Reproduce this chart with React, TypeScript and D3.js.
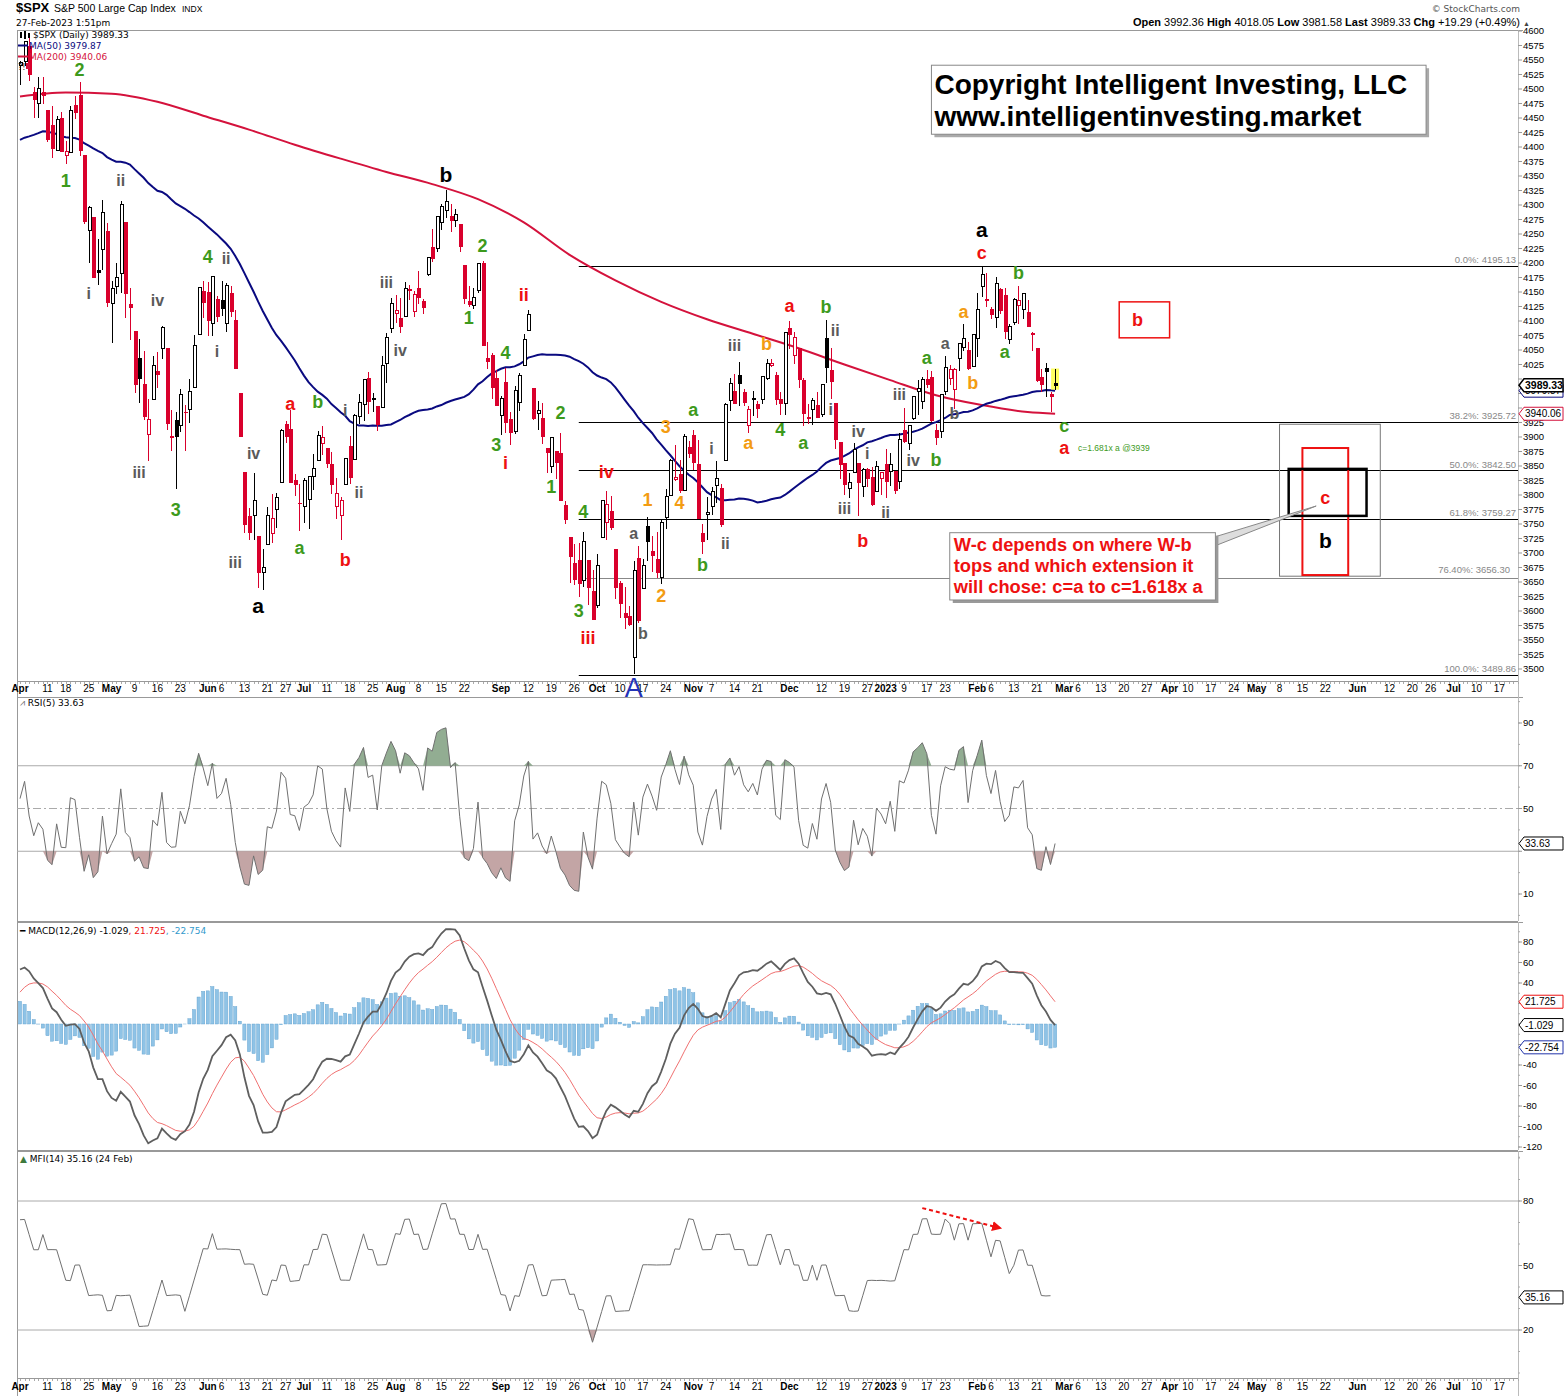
import React from "react";
import * as d3 from "d3";

// ---------------- calendar ----------------
const HOLIDAYS = [
  "2022-04-15", "2022-05-30", "2022-06-20", "2022-07-04", "2022-09-05", "2022-11-24", "2022-12-26",
  "2023-01-02", "2023-01-16", "2023-02-20", "2023-04-07", "2023-05-29", "2023-06-19",
];
const CAL_START = "2022-04-01";
const CAL_END = "2023-07-21";

// ---------------- data ----------------
// closes Jan-Mar 2022 (indicator warm-up)
const preCloses = [
  4796.6, 4793.5, 4700.6, 4696.1, 4677.0, 4670.3, 4713.1, 4726.4, 4659.0, 4662.9, 4577.1, 4532.8, 4482.7, 4397.9, 4410.1, 4356.5, 4349.9, 4326.5, 4431.9, 4515.6,
  4546.5, 4589.4, 4477.4, 4500.5, 4483.9, 4521.5, 4587.2, 4504.1, 4418.6, 4401.7, 4471.1, 4475.0, 4380.3, 4348.9, 4304.8, 4225.5, 4288.7, 4384.7, 4373.9,
  4306.3, 4386.5, 4363.5, 4328.9, 4201.1, 4170.7, 4277.9, 4259.5, 4204.3, 4173.1, 4262.5, 4357.9, 4411.7, 4463.1, 4461.2, 4511.6, 4456.2, 4520.2, 4543.1, 4575.5, 4631.6, 4602.5, 4530.4,
];

// [open, high, low, close]
const ohlcApr22 = [
  [4540.3, 4548.7, 4507.6, 4545.9], [4548.0, 4583.5, 4539.2, 4582.6], [4572.5, 4593.5, 4514.2, 4525.1], [4494.2, 4503.9, 4450.0, 4481.2],
  [4474.7, 4521.2, 4450.3, 4500.2], [4494.2, 4520.4, 4474.6, 4488.3], [4462.6, 4464.4, 4408.4, 4412.5], [4437.6, 4471.0, 4381.3, 4397.5],
  [4394.3, 4453.9, 4392.7, 4446.6], [4449.1, 4460.5, 4390.8, 4392.6], [4385.6, 4410.3, 4370.3, 4391.7], [4390.6, 4471.0, 4390.6, 4462.2],
  [4472.3, 4488.3, 4448.8, 4459.5], [4489.2, 4512.9, 4384.5, 4393.7], [4385.8, 4385.8, 4267.6, 4271.8], [4255.3, 4299.0, 4200.8, 4296.1],
  [4278.1, 4278.1, 4175.0, 4175.2], [4186.5, 4240.7, 4162.9, 4184.0], [4222.6, 4308.5, 4188.6, 4287.5], [4253.8, 4269.7, 4124.3, 4131.9],
];
const ohlcMay22 = [
  [4130.6, 4169.8, 4062.5, 4155.4], [4159.8, 4200.1, 4147.1, 4175.5], [4181.2, 4307.7, 4148.9, 4300.2], [4270.4, 4270.4, 4106.0, 4146.9],
  [4128.2, 4157.7, 4067.9, 4123.3], [4081.3, 4081.3, 3975.5, 3991.2], [4035.2, 4068.8, 3958.2, 4001.1], [3990.1, 4049.1, 3928.8, 3935.2],
  [3903.9, 3964.8, 3858.9, 3930.1], [3963.9, 4038.9, 3963.9, 4023.9], [4013.0, 4046.5, 3984.0, 4008.0], [4052.0, 4090.7, 4033.9, 4088.9],
  [4052.0, 4052.0, 3911.9, 3923.7], [3899.0, 3946.0, 3876.6, 3900.8], [3927.8, 3943.4, 3810.3, 3901.4], [3919.4, 3981.9, 3909.0, 3973.8],
  [3942.9, 3955.7, 3875.1, 3941.5], [3946.6, 3999.3, 3925.0, 3978.7], [3984.6, 4075.1, 3984.6, 4057.8], [4077.4, 4158.5, 4077.4, 4158.2],
  [4151.1, 4168.3, 4104.9, 4132.2],
];
const ohlcJun22 = [
  [4149.8, 4166.5, 4073.9, 4101.2], [4095.4, 4177.5, 4074.4, 4176.8], [4137.6, 4142.7, 4098.7, 4108.5], [4134.7, 4168.8, 4109.2, 4121.4],
  [4096.5, 4164.9, 4080.2, 4160.7], [4147.1, 4160.1, 4107.2, 4115.8], [4101.7, 4119.1, 4017.2, 4017.8], [3974.4, 3974.4, 3900.2, 3900.9],
  [3838.2, 3838.2, 3734.3, 3749.6], [3763.5, 3778.2, 3721.6, 3735.5], [3764.1, 3837.6, 3722.3, 3790.0], [3728.2, 3728.2, 3639.8, 3666.8],
  [3665.9, 3707.7, 3636.9, 3674.8], [3715.3, 3779.7, 3715.3, 3764.8], [3733.9, 3801.8, 3717.7, 3759.9], [3774.7, 3802.6, 3743.5, 3795.7],
  [3821.8, 3913.7, 3821.8, 3911.7], [3920.8, 3927.7, 3889.7, 3900.1], [3913.0, 3945.9, 3820.1, 3821.6], [3825.1, 3836.5, 3799.0, 3818.8],
  [3786.0, 3819.0, 3738.7, 3785.4],
];
const ohlcJul22 = [
  [3781.0, 3829.8, 3752.1, 3825.3], [3792.6, 3832.2, 3742.1, 3831.4], [3832.0, 3870.9, 3809.4, 3845.1], [3858.9, 3910.6, 3858.9, 3902.6],
  [3888.3, 3918.5, 3869.3, 3899.4], [3880.9, 3880.9, 3847.2, 3854.4], [3851.9, 3873.4, 3802.4, 3818.8], [3779.7, 3829.4, 3759.1, 3801.8],
  [3764.0, 3796.4, 3721.6, 3790.4], [3818.0, 3863.6, 3817.2, 3863.2], [3883.8, 3902.4, 3818.6, 3830.9], [3860.7, 3939.8, 3860.7, 3936.7],
  [3935.3, 3974.1, 3922.0, 3959.9], [3955.5, 3999.3, 3927.6, 3999.0], [4000.5, 4012.4, 3938.8, 3961.6], [3965.7, 3975.3, 3943.5, 3966.8],
  [3953.2, 3953.2, 3910.7, 3921.1], [3951.4, 4039.6, 3951.4, 4023.6], [4026.1, 4079.0, 3993.0, 4072.4], [4087.3, 4140.2, 4079.2, 4130.3],
];
const ohlcAug22 = [
  [4112.4, 4145.0, 4096.0, 4118.6], [4104.2, 4140.5, 4079.8, 4091.2], [4108.0, 4167.7, 4108.0, 4155.2], [4154.9, 4161.3, 4135.4, 4151.9],
  [4115.9, 4151.6, 4107.3, 4145.2], [4155.9, 4186.6, 4129.0, 4140.1], [4133.1, 4137.3, 4112.1, 4122.5], [4181.0, 4211.0, 4177.3, 4210.2],
  [4227.4, 4257.9, 4201.4, 4207.3], [4225.0, 4280.5, 4219.8, 4280.2], [4269.4, 4301.8, 4256.9, 4297.1], [4290.5, 4325.3, 4277.8, 4305.2],
  [4280.4, 4302.2, 4253.1, 4274.0], [4273.1, 4292.5, 4262.0, 4283.7], [4266.3, 4266.3, 4218.7, 4228.5], [4195.1, 4195.1, 4129.9, 4138.0],
  [4133.1, 4159.8, 4124.0, 4128.7], [4126.6, 4156.6, 4120.0, 4140.8], [4153.3, 4200.5, 4147.6, 4199.1], [4198.7, 4203.0, 4057.7, 4057.7],
  [4034.6, 4063.0, 4017.4, 4030.6], [4041.3, 4045.0, 3965.2, 3986.2], [4000.7, 4015.4, 3954.5, 3955.0],
];
const ohlcSep22 = [
  [3936.7, 3970.2, 3903.7, 3966.9], [3994.7, 4018.4, 3906.2, 3924.3], [3930.9, 3942.6, 3886.8, 3908.2], [3909.4, 3987.9, 3906.0, 3979.9],
  [3959.9, 4010.5, 3944.8, 4006.2], [4022.9, 4076.8, 4022.9, 4067.4], [4083.7, 4119.3, 4083.7, 4110.4], [3982.9, 3982.9, 3930.0, 3932.7],
  [3940.7, 3961.9, 3912.5, 3946.0], [3932.4, 3959.1, 3888.3, 3901.4], [3881.0, 3881.0, 3837.1, 3873.3], [3849.9, 3900.5, 3838.5, 3899.9],
  [3875.2, 3876.0, 3827.5, 3855.9], [3871.4, 3907.1, 3789.5, 3789.9], [3782.4, 3790.0, 3749.5, 3758.0], [3727.1, 3727.1, 3647.5, 3693.2],
  [3682.7, 3715.7, 3644.8, 3655.0], [3686.4, 3717.5, 3623.3, 3647.3], [3651.9, 3736.7, 3640.6, 3719.0], [3687.0, 3687.0, 3610.4, 3640.5],
  [3633.5, 3671.4, 3584.1, 3585.6],
];
const ohlcOct22 = [
  [3609.8, 3698.4, 3604.9, 3678.4], [3726.5, 3791.9, 3726.5, 3790.9], [3753.3, 3806.9, 3722.7, 3783.3], [3772.0, 3797.9, 3739.2, 3744.5],
  [3706.7, 3706.7, 3620.7, 3639.7], [3647.5, 3652.2, 3588.1, 3612.4], [3595.9, 3640.7, 3568.5, 3588.8], [3590.8, 3608.3, 3573.9, 3577.0],
  [3520.4, 3685.4, 3491.6, 3669.9], [3690.4, 3712.0, 3579.7, 3583.1], [3638.7, 3689.7, 3638.7, 3678.0], [3746.3, 3762.8, 3686.5, 3720.0],
  [3703.1, 3728.6, 3666.5, 3695.2], [3689.1, 3736.0, 3656.4, 3665.8], [3657.1, 3757.9, 3647.4, 3752.8], [3762.0, 3810.7, 3741.7, 3797.3],
  [3799.4, 3862.9, 3799.4, 3859.1], [3826.0, 3886.2, 3824.1, 3830.6], [3834.7, 3860.0, 3803.8, 3807.3], [3808.3, 3905.4, 3808.3, 3901.1],
  [3881.9, 3893.7, 3863.2, 3872.0],
];
const ohlcNov22 = [
  [3901.8, 3911.8, 3843.8, 3856.1], [3852.9, 3894.4, 3758.7, 3759.7], [3733.3, 3750.6, 3698.2, 3719.9], [3766.7, 3796.3, 3721.6, 3770.6],
  [3780.7, 3814.0, 3764.7, 3806.8], [3817.0, 3859.4, 3786.3, 3828.1], [3810.9, 3818.5, 3744.2, 3748.6], [3859.9, 3958.3, 3859.9, 3956.4],
  [3963.7, 4001.5, 3944.8, 3992.9], [3978.0, 4009.0, 3956.4, 3957.3], [4006.4, 4028.8, 3953.2, 3991.7], [3976.8, 3983.1, 3954.3, 3958.8],
  [3919.3, 3954.3, 3906.5, 3946.6], [3966.4, 3979.9, 3936.0, 3965.3], [3956.2, 3962.0, 3933.3, 3949.9], [3965.5, 4005.9, 3956.9, 4003.6],
  [4000.3, 4033.8, 3998.7, 4027.3], [4023.3, 4034.0, 4020.8, 4026.1], [4005.4, 4012.3, 3955.8, 3963.9], [3964.0, 3976.8, 3937.7, 3957.6],
  [3957.2, 4080.1, 3938.6, 4080.1],
];
const ohlcDec22 = [
  [4087.1, 4100.5, 4050.9, 4076.6], [4040.2, 4080.5, 4026.6, 4071.7], [4052.0, 4052.5, 3984.5, 3998.8], [3996.6, 4001.5, 3918.4, 3941.3],
  [3933.3, 3957.6, 3922.7, 3933.9], [3947.8, 3966.7, 3921.0, 3963.5], [3954.2, 3977.0, 3933.0, 3934.4], [3939.3, 3990.7, 3935.3, 3990.6],
  [4069.4, 4101.0, 3993.0, 4019.7], [4015.5, 4053.8, 3965.7, 3995.3], [3958.4, 3958.4, 3879.5, 3895.8], [3890.9, 3890.9, 3827.9, 3852.4],
  [3853.8, 3854.9, 3800.0, 3817.7], [3810.5, 3838.2, 3795.6, 3821.6], [3839.5, 3889.3, 3839.5, 3878.4], [3853.6, 3853.6, 3764.5, 3822.4],
  [3815.1, 3845.8, 3797.0, 3844.8], [3843.3, 3846.7, 3813.2, 3829.3], [3829.6, 3848.3, 3780.8, 3783.2], [3805.5, 3858.2, 3805.5, 3849.3],
  [3829.1, 3839.9, 3800.3, 3839.5],
];
const ohlcJan23 = [
  [3853.3, 3878.5, 3794.3, 3824.1], [3840.4, 3873.2, 3815.8, 3853.0], [3839.7, 3839.7, 3802.4, 3808.1], [3823.4, 3906.2, 3809.6, 3895.1],
  [3910.8, 3950.6, 3890.4, 3892.1], [3888.6, 3919.8, 3877.3, 3919.3], [3932.4, 3970.1, 3928.5, 3969.6], [3977.6, 3997.8, 3937.6, 3983.2],
  [3960.6, 4004.0, 3947.7, 3999.1], [3999.3, 4015.4, 3984.6, 3991.0], [4002.3, 4014.2, 3926.6, 3928.9], [3911.8, 3922.9, 3885.5, 3898.9],
  [3909.0, 3973.0, 3897.9, 3972.6], [3978.1, 4039.3, 3971.6, 4019.8], [4001.7, 4023.9, 3989.8, 4017.0], [3982.7, 4019.6, 3949.1, 4016.2],
  [4036.1, 4061.6, 4013.3, 4060.4], [4053.7, 4094.2, 4048.7, 4070.6], [4049.3, 4063.9, 4015.6, 4017.8], [4020.9, 4077.2, 4020.4, 4076.6],
];
const ohlcFeb23 = [
  [4070.1, 4149.0, 4037.2, 4119.2], [4158.7, 4195.4, 4141.9, 4179.8], [4136.7, 4182.4, 4123.4, 4136.5], [4119.6, 4124.6, 4104.0, 4111.1],
  [4105.4, 4176.5, 4088.4, 4164.0], [4153.5, 4156.9, 4111.7, 4117.9], [4144.3, 4156.2, 4069.7, 4081.5], [4068.9, 4094.4, 4060.8, 4090.5],
  [4096.6, 4138.9, 4092.7, 4137.3], [4126.7, 4159.8, 4095.0, 4136.1], [4119.5, 4148.1, 4104.0, 4147.6], [4114.8, 4136.5, 4089.4, 4090.4],
  [4077.4, 4081.5, 4048.0, 4079.1], [4052.4, 4052.4, 3995.2, 3997.3], [4001.8, 4017.4, 3976.9, 3991.1], [4018.6, 4028.3, 3969.2, 4012.3],
  [3973.2, 3978.3, 3943.1, 3970.0], [3992.4, 4018.1, 3981.6, 3989.3],
];

// MA(200)
const ma200Dates = [
  "2022-04-01", "2022-04-18", "2022-05-02", "2022-05-16", "2022-05-31", "2022-06-14", "2022-06-29", "2022-07-14", "2022-07-28", "2022-08-11",
  "2022-08-25", "2022-09-09", "2022-09-23", "2022-10-07", "2022-10-21", "2022-11-04", "2022-11-18", "2022-12-05", "2022-12-19", "2023-01-04",
  "2023-01-19", "2023-02-02", "2023-02-16", "2023-02-27",
];
const ma200Values = [
  4487, 4494, 4492, 4478, 4454, 4430, 4404, 4380, 4357, 4336,
  4310, 4270, 4214, 4170, 4133, 4103, 4078, 4053, 4025, 3998,
  3972, 3955, 3943, 3940.06,
];

// Fibonacci retracement levels
const fibLevels = [
  { label: "0.0%: 4195.13", value: 4195.13 },
  { label: "38.2%: 3925.72", value: 3925.72 },
  { label: "50.0%: 3842.50", value: 3842.5 },
  { label: "61.8%: 3759.27", value: 3759.27 },
  { label: "76.40%: 3656.30", value: 3656.3 },
  { label: "100.0%: 3489.86", value: 3489.86 },
];
const fibStart = "2022-09-27";

// x-axis tick labels [date, text, isMonth]
const xTicks: [string, string, boolean][] = [
  ["2022-04-01", "Apr", true], ["2022-04-11", "11", false], ["2022-04-18", "18", false], ["2022-04-25", "25", false],
  ["2022-05-02", "May", true], ["2022-05-09", "9", false], ["2022-05-16", "16", false], ["2022-05-23", "23", false],
  ["2022-06-01", "Jun", true], ["2022-06-06", "6", false], ["2022-06-13", "13", false], ["2022-06-21", "21", false], ["2022-06-27", "27", false],
  ["2022-07-01", "Jul", true], ["2022-07-11", "11", false], ["2022-07-18", "18", false], ["2022-07-25", "25", false],
  ["2022-08-01", "Aug", true], ["2022-08-08", "8", false], ["2022-08-15", "15", false], ["2022-08-22", "22", false],
  ["2022-09-01", "Sep", true], ["2022-09-12", "12", false], ["2022-09-19", "19", false], ["2022-09-26", "26", false],
  ["2022-10-03", "Oct", true], ["2022-10-10", "10", false], ["2022-10-17", "17", false], ["2022-10-24", "24", false],
  ["2022-11-01", "Nov", true], ["2022-11-07", "7", false], ["2022-11-14", "14", false], ["2022-11-21", "21", false],
  ["2022-12-01", "Dec", true], ["2022-12-12", "12", false], ["2022-12-19", "19", false], ["2022-12-27", "27", false],
  ["2023-01-03", "2023", true], ["2023-01-09", "9", false], ["2023-01-17", "17", false], ["2023-01-23", "23", false],
  ["2023-02-01", "Feb", true], ["2023-02-06", "6", false], ["2023-02-13", "13", false], ["2023-02-21", "21", false],
  ["2023-03-01", "Mar", true], ["2023-03-06", "6", false], ["2023-03-13", "13", false], ["2023-03-20", "20", false], ["2023-03-27", "27", false],
  ["2023-04-03", "Apr", true], ["2023-04-10", "10", false], ["2023-04-17", "17", false], ["2023-04-24", "24", false],
  ["2023-05-01", "May", true], ["2023-05-08", "8", false], ["2023-05-15", "15", false], ["2023-05-22", "22", false],
  ["2023-06-01", "Jun", true], ["2023-06-12", "12", false], ["2023-06-20", "20", false], ["2023-06-26", "26", false],
  ["2023-07-03", "Jul", true], ["2023-07-10", "10", false], ["2023-07-17", "17", false],
];

// Elliott wave labels [date, price, text, colour key]
const waveLabels: [string, number, string, string][] = [
  ["2022-04-21", 4532, "2", "g"], ["2022-04-18", 4341, "1", "g"], ["2022-05-04", 4343, "ii", "s"], ["2022-04-25", 4147, "i", "s"],
  ["2022-05-16", 4136, "iv", "s"], ["2022-06-01", 4210, "4", "g"], ["2022-06-07", 4207, "ii", "s"], ["2022-06-03", 4047, "i", "s"],
  ["2022-05-10", 3838, "iii", "s"], ["2022-05-20", 3774, "3", "g"], ["2022-06-15", 3872, "iv", "s"], ["2022-06-09", 3684, "iii", "s"],
  ["2022-06-16", 3610, "a", "k"], ["2022-06-28", 3957, "a", "r"], ["2022-07-07", 3960, "b", "g"], ["2022-07-15", 3945, "i", "s"],
  ["2022-07-20", 3805, "ii", "s"], ["2022-06-30", 3709, "a", "g"], ["2022-07-15", 3688, "b", "r"], ["2022-07-28", 4167, "iii", "s"],
  ["2022-08-02", 4050, "iv", "s"], ["2022-08-16", 4353, "b", "k"], ["2022-08-26", 4229, "2", "g"], ["2022-08-23", 4105, "1", "g"],
  ["2022-09-02", 4045, "4", "g"], ["2022-08-31", 3886, "3", "g"], ["2022-09-02", 3855, "i", "r"], ["2022-09-09", 4145, "ii", "r"],
  ["2022-09-21", 3941, "2", "g"], ["2022-09-19", 3814, "1", "g"], ["2022-09-28", 3771, "4", "g"], ["2022-10-05", 3840, "iv", "r"],
  ["2022-09-27", 3600, "3", "g"], ["2022-09-29", 3553, "iii", "r"], ["2022-10-13", 3467, "A", "b"], ["2022-10-13", 3734, "a", "s"],
  ["2022-10-17", 3562, "b", "s"], ["2022-10-18", 3791, "1", "o"], ["2022-10-21", 3626, "2", "o"], ["2022-10-24", 3917, "3", "o"],
  ["2022-10-27", 3786, "4", "o"], ["2022-11-01", 3947, "a", "g"], ["2022-11-07", 3881, "i", "s"], ["2022-11-10", 3717, "ii", "s"],
  ["2022-11-03", 3679, "b", "g"], ["2022-11-14", 4057, "iii", "s"], ["2022-11-23", 4060, "b", "o"], ["2022-11-17", 3890, "a", "o"],
  ["2022-11-29", 3912, "4", "g"], ["2022-12-06", 3890, "a", "g"], ["2022-12-01", 4126, "a", "r"], ["2022-12-13", 4124, "b", "g"],
  ["2022-12-15", 4083, "ii", "s"], ["2022-12-14", 3947, "i", "s"], ["2022-12-22", 3910, "iv", "s"], ["2022-12-27", 3871, "i", "s"],
  ["2022-12-19", 3776, "iii", "s"], ["2023-01-03", 3769, "ii", "s"], ["2022-12-23", 3721, "b", "r"], ["2023-01-06", 3974, "iii", "s"],
  ["2023-01-11", 3860, "iv", "s"], ["2023-01-19", 3860, "b", "g"], ["2023-01-17", 4036, "a", "g"], ["2023-01-23", 4062, "a", "s"],
  ["2023-01-25", 3941, "b", "s"], ["2023-01-27", 4115, "a", "o"], ["2023-01-31", 3993, "b", "o"], ["2023-02-02", 4257, "a", "k"],
  ["2023-02-02", 4217, "c", "r"], ["2023-02-14", 4183, "b", "g"], ["2023-02-09", 4047, "a", "g"], ["2023-03-01", 3919, "c", "g"],
  ["2023-03-01", 3881, "a", "r"], ["2023-03-23", 4102, "b", "r"], ["2023-05-22", 3795, "c", "r"], ["2023-05-22", 3722, "b", "k"],
];

const COLORS: Record<string, string> = { g: "#3d9a1c", k: "#000000", r: "#ee1111", o: "#f39c12", s: "#5a5a5a", b: "#2433b8" };
const SIZES: Record<string, number> = { g: 18, k: 21, r: 18, o: 18, s: 16, b: 27 };

// projection boxes [startDate, endDate, high, low, stroke, width]
const boxes: [string, string, number, number, string, number][] = [
  ["2023-05-08", "2023-06-08", 3922, 3660, "#777777", 1],
  ["2023-05-15", "2023-05-30", 3881, 3662, "#ee1111", 2],
  ["2023-05-10", "2023-06-05", 3845, 3764, "#000000", 2.5],
  ["2023-03-17", "2023-04-03", 4133, 4071, "#ee1111", 1.5],
];

const noteLines = ["W-c depends on where W-b", "tops and which extension it", "will chose: c=a to c=1.618x a"];
const copyrightLines = ["Copyright Intelligent Investing, LLC", "www.intelligentinvesting.market"];

const mfiArrow: [string, number][] = [["2023-01-13", 76.7], ["2023-02-08", 67.4]];

// ---------------- helpers ----------------
function buildCalendar(start: string, end: string, holidays: string[]) {
  const out: string[] = [];
  const d = new Date(start + "T00:00:00Z");
  const e = new Date(end + "T00:00:00Z");
  const hs = new Set(holidays);
  while (d <= e) {
    const day = d.getUTCDay();
    const s = d.toISOString().slice(0, 10);
    if (day !== 0 && day !== 6 && !hs.has(s)) out.push(s);
    d.setUTCDate(d.getUTCDate() + 1);
  }
  return out;
}
function ema(a: number[], n: number) {
  const k = 2 / (n + 1);
  let e = a[0];
  return a.map((v, i) => (i === 0 ? e : (e = v * k + e * (1 - k))));
}
function rsi(c: number[], n: number) {
  const out = new Array(c.length).fill(NaN);
  let ag = 0, al = 0;
  for (let i = 1; i <= n; i++) {
    const d = c[i] - c[i - 1];
    if (d > 0) ag += d; else al -= d;
  }
  ag /= n; al /= n;
  out[n] = 100 - 100 / (1 + ag / al);
  for (let i = n + 1; i < c.length; i++) {
    const d = c[i] - c[i - 1];
    ag = (ag * (n - 1) + Math.max(d, 0)) / n;
    al = (al * (n - 1) + Math.max(-d, 0)) / n;
    out[i] = al === 0 ? 100 : 100 - 100 / (1 + ag / al);
  }
  return out;
}
function mfi(h: number[], l: number[], c: number[], n: number) {
  const tp = c.map((v, i) => (h[i] + l[i] + v) / 3);
  const out = new Array(c.length).fill(NaN);
  for (let i = n; i < c.length; i++) {
    let pos = 0, neg = 0;
    for (let j = i - n + 1; j <= i; j++) {
      if (tp[j] > tp[j - 1]) pos += tp[j];
      else if (tp[j] < tp[j - 1]) neg += tp[j];
    }
    out[i] = neg === 0 ? 100 : 100 - 100 / (1 + pos / neg);
  }
  return out;
}

const FONT = "'Liberation Sans', Arial, sans-serif";
const VFONT = "'DejaVu Sans', Verdana, sans-serif";

function Tag({ y, text, stroke, bold }: { y: number; text: string; stroke: string; bold?: boolean }) {
  const x = 1518;
  return (
    <g>
      <path d={`M${x + 1},${y} L${x + 6},${y - 6.5} H${x + 45} V${y + 6.5} H${x + 6} Z`} fill="#fff" stroke={stroke} strokeWidth={bold ? 1.5 : 1} />
      <text x={x + 7} y={y} dy="0.36em" fontSize={bold ? 10.5 : 10} fontWeight={bold ? 700 : 400} fontFamily={FONT} fill="#000">{text}</text>
    </g>
  );
}

export default function App() {
  const cal = buildCalendar(CAL_START, CAL_END, HOLIDAYS);
  const idx = new Map(cal.map((d, i) => [d, i] as [string, number]));
  const di = (d: string) => idx.get(d) ?? 0;

  const ohlc = [...ohlcApr22, ...ohlcMay22, ...ohlcJun22, ...ohlcJul22, ...ohlcAug22, ...ohlcSep22, ...ohlcOct22, ...ohlcNov22, ...ohlcDec22, ...ohlcJan23, ...ohlcFeb23];
  const opens = ohlc.map((d) => d[0]);
  const highs = ohlc.map((d) => d[1]);
  const lows = ohlc.map((d) => d[2]);
  const closes = ohlc.map((d) => d[3]);
  const N = closes.length;

  const X0 = 17, X1 = 1518;
  const x = d3.scaleLinear().domain([-0.655, 327.07]).range([X0, X1]);
  const yM = d3.scaleLinear().domain([3500, 4600]).range([669, 31]);
  const yR = d3.scaleLinear().domain([10, 90]).range([894, 723]);
  const yD = d3.scaleLinear().domain([-120, 80]).range([1147, 942]);
  const yF = d3.scaleLinear().domain([20, 80]).range([1330, 1201]);

  const MAIN = { top: 30, bottom: 681 };
  const RP = { top: 697, bottom: 921 };
  const DP = { top: 922, bottom: 1150 };
  const FP = { top: 1151, bottom: 1378 };

  // indicators
  const P = preCloses.length;
  const allC = [...preCloses, ...closes];
  const allH = [...preCloses, ...highs];
  const allL = [...preCloses, ...lows];
  const ma50 = closes.map((_, i) => d3.mean(allC.slice(P + i - 49, P + i + 1)) as number);
  const rsiV = rsi(allC, 5).slice(P);
  const e12 = ema(allC, 12), e26 = ema(allC, 26);
  const macdAll = e12.map((v, i) => v - e26[i]);
  const sigAll = ema(macdAll, 9);
  const macdV = macdAll.slice(P);
  const sigV = sigAll.slice(P);
  const histV = macdV.map((v, i) => v - sigV[i]);
  const mfiV = mfi(allH, allL, allC, 14).slice(P, P + N - 1);

  const lineIdx = (ys: (v: number) => number) => d3.line<number>().x((_, i) => x(i)).y((v) => ys(v));
  const ma50Path = lineIdx(yM)(ma50) || "";
  const ma200Pts = ma200Dates.map((d, i) => [x(di(d)), yM(ma200Values[i])] as [number, number]);
  const ma200Path = d3.line().curve(d3.curveMonotoneX)(ma200Pts) || "";
  const rsiPath = lineIdx(yR)(rsiV) || "";
  const rsiAbove = d3.area<number>().x((_, i) => x(i)).y0(yR(70)).y1((v) => yR(Math.max(v, 70)))(rsiV) || "";
  const rsiBelow = d3.area<number>().x((_, i) => x(i)).y0(yR(30)).y1((v) => yR(Math.min(v, 30)))(rsiV) || "";
  const macdPath = lineIdx(yD)(macdV) || "";
  const sigPath = lineIdx(yD)(sigV) || "";
  const mfiPath = lineIdx(yF)(mfiV) || "";
  const mfiAbove = d3.area<number>().x((_, i) => x(i)).y0(yF(80)).y1((v) => yF(Math.max(v, 80)))(mfiV) || "";
  const mfiBelow = d3.area<number>().x((_, i) => x(i)).y0(yF(20)).y1((v) => yF(Math.min(v, 20)))(mfiV) || "";

  const RED = "#d9002c";
  const candles = closes.map((c, i) => {
    const o = opens[i], h = highs[i], l = lows[i];
    const prev = i === 0 ? preCloses[P - 1] : closes[i - 1];
    const col = c >= prev ? "#000" : RED;
    const hollow = c > o;
    const cx = Math.round(x(i)) + 0.5;
    const top = yM(Math.max(o, c)), bot = yM(Math.min(o, c));
    return (
      <g key={i}>
        <line x1={cx} x2={cx} y1={yM(h)} y2={yM(l)} stroke={col} strokeWidth={1} />
        <rect x={cx - 1.5} y={top} width={3} height={Math.max(bot - top, 0.8)} fill={hollow ? "#fff" : col} stroke={col} strokeWidth={1} />
      </g>
    );
  });

  const priceTicks = d3.range(3500, 4601, 25);
  const last = N - 1;
  const fx = x(di(fibStart));

  const axisText = { fontFamily: FONT, fontSize: 10, fill: "#000" } as const;

  const xLabelRow = (yBase: number) =>
    xTicks.map(([d, t, m], i) => (
      <text key={i} x={x(di(d))} y={yBase} textAnchor="middle" {...axisText} fontWeight={m ? 700 : 400}>{t}</text>
    ));
  const dayTicks = (y0: number) =>
    cal.map((_, i) => <line key={i} x1={Math.round(x(i)) + 0.5} x2={Math.round(x(i)) + 0.5} y1={y0} y2={y0 + 2} stroke="#aaa" strokeWidth={1} />);

  // axis labels hidden where a value tag sits on top of them
  const rightAxis = (vals: number[], ys: (v: number) => number, minor: number[], tagYs: number[]) => (
    <g>
      {minor.map((v, i) => <line key={"m" + i} x1={X1} x2={X1 + 2} y1={ys(v)} y2={ys(v)} stroke="#aaa" />)}
      {vals.map((v, i) => (
        <g key={i}>
          <line x1={X1} x2={X1 + 4} y1={ys(v)} y2={ys(v)} stroke="#999" />
          {tagYs.every((t) => Math.abs(t - ys(v)) > 8) && (
            <text x={X1 + 5} y={ys(v)} dy="0.35em" {...axisText} fontSize={9.5}>{v}</text>
          )}
        </g>
      ))}
    </g>
  );

  // annotation geometry
  const nb = { x0: x(di("2023-01-24")), x1: x(di("2023-04-18")), y0: yM(3735), y1: yM(3619) };
  const cb = { x0: x(di("2023-01-18")), x1: x(di("2023-06-23")), y0: yM(4541), y1: yM(4422) };
  const tip = [x(di("2023-05-18")), yM(3781)];

  return (
    <svg width={1565} height={1396} style={{ position: "absolute", left: 0, top: 0, background: "#fff" }}>
      <defs>
        <clipPath id="cm"><rect x={X0} y={MAIN.top} width={X1 - X0} height={MAIN.bottom - MAIN.top} /></clipPath>
        <clipPath id="cr"><rect x={X0} y={RP.top} width={X1 - X0} height={RP.bottom - RP.top} /></clipPath>
        <clipPath id="cd"><rect x={X0} y={DP.top} width={X1 - X0} height={DP.bottom - DP.top} /></clipPath>
        <clipPath id="cf"><rect x={X0} y={FP.top} width={X1 - X0} height={FP.bottom - FP.top} /></clipPath>
        <marker id="arr" viewBox="0 0 10 10" refX="8" refY="5" markerWidth="5" markerHeight="5" orient="auto">
          <path d="M0,0 L10,5 L0,10 Z" fill="#ee1111" />
        </marker>
      </defs>
      <rect x={0} y={0} width={1565} height={1396} fill="#fff" />

      {/* header */}
      <text x={16} y={12} fontFamily={FONT} fontSize={13} fontWeight={700}>$SPX</text>
      <text x={54} y={12} fontFamily={FONT} fontSize={10.5}>S&amp;P 500 Large Cap Index</text>
      <text x={182} y={12} fontFamily={FONT} fontSize={8.5}>INDX</text>
      <text x={16} y={25.5} fontFamily={VFONT} fontSize={9}>27-Feb-2023 1:51pm</text>
      <text x={1520} y={12} textAnchor="end" fontFamily={VFONT} fontSize={9} fill="#555">© StockCharts.com</text>
      <text x={1530} y={26} textAnchor="end" fontFamily={FONT} fontSize={11}>
        <tspan fontWeight={700}>Open</tspan> 3992.36 <tspan fontWeight={700}>High</tspan> 4018.05 <tspan fontWeight={700}>Low</tspan> 3981.58{" "}
        <tspan fontWeight={700}>Last</tspan> 3989.33 <tspan fontWeight={700}>Chg</tspan> +19.29 (+0.49%) <tspan fontSize={7} fill="#444">▲</tspan>
      </text>

      {/* panel frames */}
      {[MAIN, RP, DP, FP].map((p, i) => (
        <g key={i}>
          <line x1={X0} x2={X1 + 5} y1={p.top + 0.5} y2={p.top + 0.5} stroke="#999" />
          <line x1={X0} x2={X1} y1={p.bottom + 0.5} y2={p.bottom + 0.5} stroke="#999" />
          <line x1={X0 + 0.5} x2={X0 + 0.5} y1={p.top} y2={p.bottom} stroke="#999" />
          <line x1={X1 + 0.5} x2={X1 + 0.5} y1={p.top} y2={p.bottom} stroke="#bbb" />
        </g>
      ))}
      <line x1={X0 + 0.5} x2={X0 + 0.5} y1={MAIN.bottom} y2={RP.top} stroke="#999" />
      <line x1={X0 + 0.5} x2={X0 + 0.5} y1={FP.bottom} y2={1396} stroke="#999" />
      <line x1={X1 + 0.5} x2={X1 + 0.5} y1={MAIN.bottom} y2={RP.top} stroke="#bbb" />
      <line x1={X1 + 0.5} x2={X1 + 0.5} y1={FP.bottom} y2={1396} stroke="#bbb" />
      {dayTicks(MAIN.bottom + 1)}
      {dayTicks(FP.bottom + 1)}
      {xLabelRow(692)}
      {xLabelRow(1390)}

      {/* ---------- main panel ---------- */}
      <g clipPath="url(#cm)">
        {fibLevels.map((f, i) => (
          <line key={i} x1={fx} x2={X1} y1={Math.round(yM(f.value)) + 0.5} y2={Math.round(yM(f.value)) + 0.5} stroke={f.value === 3656.3 ? "#888" : "#000"} strokeWidth={1} />
        ))}
        <path d={ma200Path} fill="none" stroke="#d4123c" strokeWidth={2} />
        <path d={ma50Path} fill="none" stroke="#0a0a80" strokeWidth={2} />
        <rect x={x(last) - 4} y={yM(highs[last])} width={8} height={yM(lows[last]) - yM(highs[last])} fill="#ffff44" opacity={0.85} />
        <g shapeRendering="crispEdges">{candles}</g>
      </g>
      {fibLevels.map((f, i) => (
        <text key={i} x={f.value === 3656.3 ? 1510 : 1516} y={yM(f.value) - (f.value === 3656.3 ? 9 : 6)} dy="0.35em" textAnchor="end" fontFamily={FONT} fontSize={9.5} fill="#888">{f.label}</text>
      ))}

      {/* legend */}
      <g fontFamily={VFONT} fontSize={9}>
        <rect x={20} y={32} width={2} height={6} fill="#000" />
        <rect x={24} y={31} width={2} height={8} fill="#000" />
        <rect x={28} y={33} width={2} height={5} fill="#000" />
        <text x={33} y={38}>$SPX (Daily) 3989.33</text>
        <line x1={18} x2={28} y1={45.5} y2={45.5} stroke="#0a0a80" strokeWidth={2} />
        <text x={29} y={49} fill="#0a0a80">MA(50) 3979.87</text>
        <line x1={18} x2={28} y1={56.5} y2={56.5} stroke="#d4123c" strokeWidth={2} />
        <text x={29} y={59.5} fill="#d4123c">MA(200) 3940.06</text>
        <text x={18} y={70} fontSize={8}>?!</text>
        <rect x={26} y={63} width={4} height={6} fill="#d4123c" />
      </g>

      {/* copyright box */}
      <rect x={cb.x0 + 3} y={cb.y0 + 3} width={cb.x1 - cb.x0} height={cb.y1 - cb.y0} fill="#aaa" />
      <rect x={cb.x0} y={cb.y0} width={cb.x1 - cb.x0} height={cb.y1 - cb.y0} fill="#fff" stroke="#888" />
      {copyrightLines.map((t, i) => (
        <text key={i} x={cb.x0 + 3} y={cb.y0 + 29 + i * 32} fontFamily={FONT} fontSize={28} fontWeight={700}>{t}</text>
      ))}

      {/* projection boxes */}
      {boxes.map(([d0, d1, hi, lo, col, w], i) => (
        <rect key={i} x={x(di(d0))} y={yM(hi)} width={x(di(d1)) - x(di(d0))} height={yM(lo) - yM(hi)} fill="none" stroke={col} strokeWidth={w} />
      ))}

      {/* note box with pointer */}
      <polygon points={`${nb.x1},${nb.y0 + 4} ${tip[0]},${tip[1]} ${nb.x1},${nb.y0 + 13}`} fill="#ddd" stroke="#888" strokeWidth={1} />
      <rect x={nb.x0 + 3} y={nb.y0 + 3} width={nb.x1 - nb.x0} height={nb.y1 - nb.y0} fill="#999" />
      <rect x={nb.x0} y={nb.y0} width={nb.x1 - nb.x0} height={nb.y1 - nb.y0} fill="#fff" stroke="#888" />
      {noteLines.map((t, i) => (
        <text key={i} x={nb.x0 + 4} y={nb.y0 + 18 + i * 21} fontFamily={FONT} fontSize={18.3} fontWeight={700} fill="#ee1111">{t}</text>
      ))}

      {/* wave labels */}
      {waveLabels.map(([d, p, t, c], i) => (
        <text key={i} x={x(di(d))} y={yM(p)} textAnchor="middle" dominantBaseline="central" fontFamily={FONT} fontWeight={c === "b" ? 400 : 700} fontSize={SIZES[c]} fill={COLORS[c]}>{t}</text>
      ))}
      <text x={x(di("2023-03-06"))} y={yM(3881)} dominantBaseline="central" fontFamily={FONT} fontSize={8.5} fill="#3d9a1c">c=1.681x a @3939</text>

      {/* main right axis */}
      {rightAxis(priceTicks, yM, [], [yM(3989.33), yM(3979.87), yM(3940.06)])}
      <Tag y={yM(3979.87)} text="3979.87" stroke="#0a0a80" />
      <Tag y={yM(3989.33)} text="3989.33" stroke="#000" bold />
      <Tag y={yM(3940.06)} text="3940.06" stroke="#d4123c" />

      {/* ---------- RSI ---------- */}
      <g clipPath="url(#cr)">
        <line x1={X0} x2={X1} y1={yR(70)} y2={yR(70)} stroke="#aaa" />
        <line x1={X0} x2={X1} y1={yR(30)} y2={yR(30)} stroke="#aaa" />
        <line x1={X0} x2={X1} y1={yR(50)} y2={yR(50)} stroke="#aaa" strokeDasharray="8,3,2,3" />
        <path d={rsiAbove} fill="#7f9f7f" opacity={0.85} />
        <path d={rsiBelow} fill="#b99595" opacity={0.85} />
        <path d={rsiPath} fill="none" stroke="#707070" strokeWidth={1} />
      </g>
      {rightAxis([10, 30, 50, 70, 90], yR, d3.range(0, 101, 10), [yR(33.63)])}
      <text x={20} y={706} fontFamily={VFONT} fontSize={9}>
        <tspan fill="#666">⩘</tspan> RSI(5) 33.63
      </text>
      <Tag y={yR(33.63)} text="33.63" stroke="#000" />

      {/* ---------- MACD ---------- */}
      <g clipPath="url(#cd)">
        {histV.map((h, i) => (
          <rect key={i} x={x(i) - 1.6} y={Math.min(yD(0), yD(h))} width={3.2} height={Math.abs(yD(h) - yD(0))} fill="#8fc3e6" stroke="#5b9dcc" strokeWidth={0.4} />
        ))}
        <path d={sigPath} fill="none" stroke="#f07070" strokeWidth={1} />
        <path d={macdPath} fill="none" stroke="#5f5f5f" strokeWidth={1.8} />
      </g>
      {rightAxis(d3.range(-120, 81, 20), yD, d3.range(-130, 91, 10), [yD(21.725), yD(-1.029), yD(-22.754)])}
      <text x={20} y={934} fontFamily={VFONT} fontSize={9}>
        <tspan fontWeight={700}>━</tspan> MACD(12,26,9) -1.029<tspan fill="#ee1111">, 21.725</tspan><tspan fill="#3399cc">, -22.754</tspan>
      </text>
      <Tag y={yD(21.725)} text="21.725" stroke="#ee1111" />
      <Tag y={yD(-1.029)} text="-1.029" stroke="#000" />
      <Tag y={yD(-22.754)} text="-22.754" stroke="#2233aa" />

      {/* ---------- MFI ---------- */}
      <g clipPath="url(#cf)">
        <line x1={X0} x2={X1} y1={yF(80)} y2={yF(80)} stroke="#aaa" />
        <line x1={X0} x2={X1} y1={yF(20)} y2={yF(20)} stroke="#aaa" />
        <path d={mfiAbove} fill="#7f9f7f" opacity={0.85} />
        <path d={mfiBelow} fill="#b99595" opacity={0.85} />
        <path d={mfiPath} fill="none" stroke="#707070" strokeWidth={1} />
        <line x1={x(di(mfiArrow[0][0]))} y1={yF(mfiArrow[0][1])} x2={x(di(mfiArrow[1][0]))} y2={yF(mfiArrow[1][1])} stroke="#ee1111" strokeWidth={2} strokeDasharray="4,3" markerEnd="url(#arr)" />
      </g>
      {rightAxis([20, 50, 80], yF, d3.range(0, 101, 10), [yF(35.16)])}
      <text x={20} y={1162} fontFamily={VFONT} fontSize={9}>
        <tspan fill="#3d7a3d">▲</tspan> MFI(14) 35.16 (24 Feb)
      </text>
      <Tag y={yF(35.16)} text="35.16" stroke="#000" />
    </svg>
  );
}
